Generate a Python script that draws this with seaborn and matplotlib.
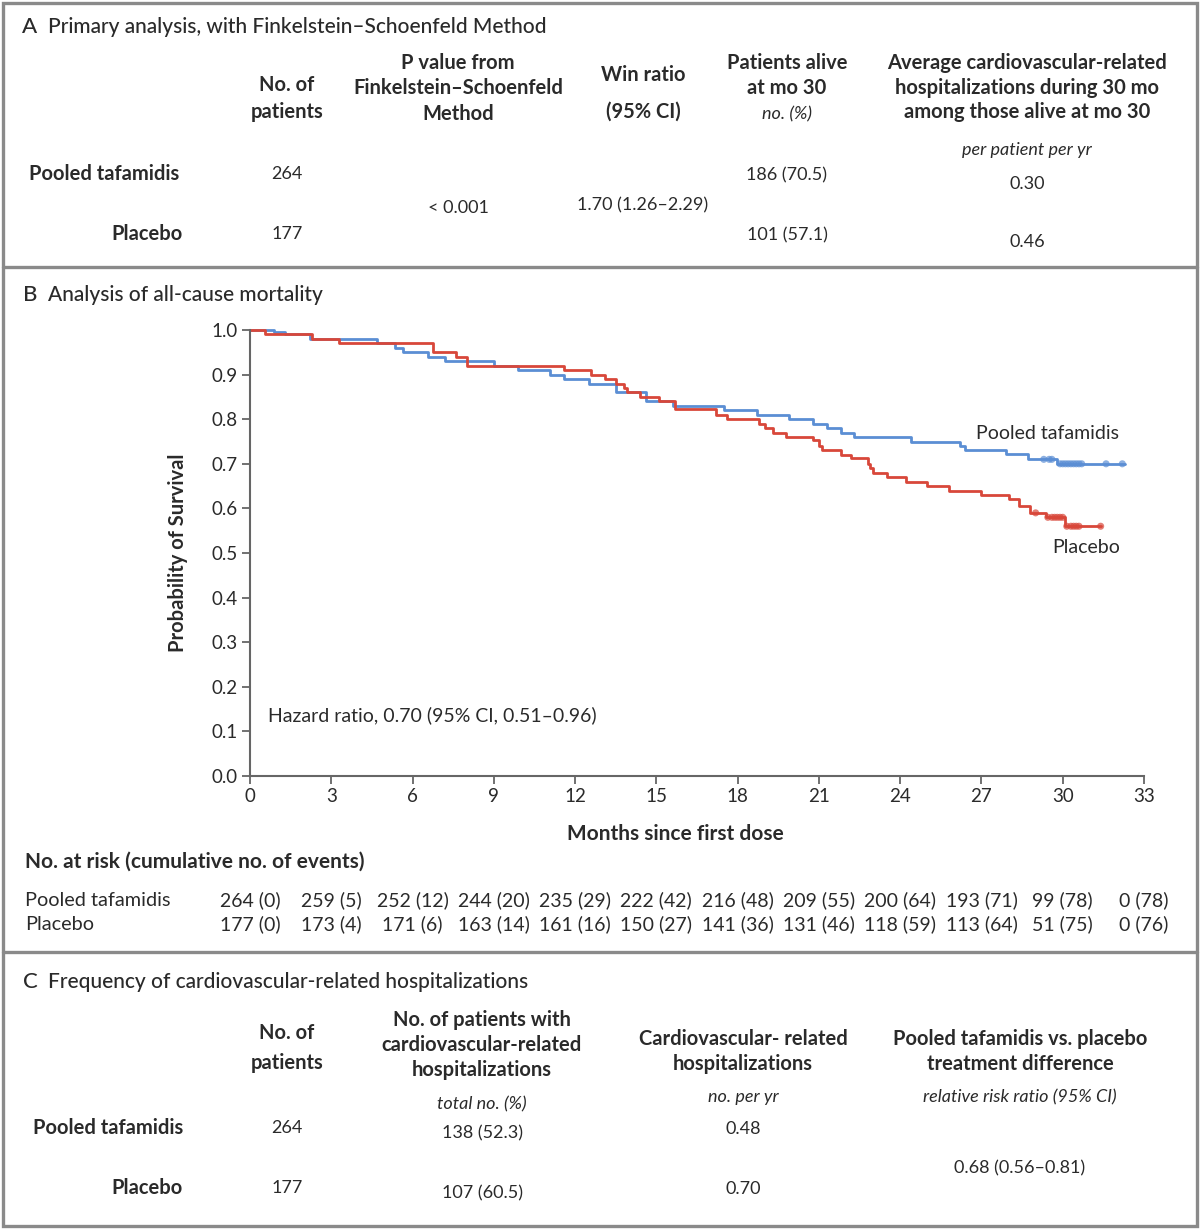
import numpy as np
import pandas as pd
import seaborn as sns
import matplotlib.pyplot as plt
from matplotlib.patches import Rectangle
from matplotlib.lines import Line2D

# ---- data ----
groups = ['Pooled tafamidis', 'Placebo']

# Kaplan-Meier steps (month of step, survival after step)
taf_t = [0, 0.9, 1.3, 2.2, 4.7, 5.35, 5.65, 6.57, 7.2, 9.0, 9.9, 11.07, 11.6, 12.5, 13.5,
         14.6, 15.6, 17.5, 18.7, 19.9, 20.8, 21.3, 21.8, 22.3, 24.4, 26.2, 26.4, 27.9,
         28.7, 29.8, 32.3]
taf_s = [1.0, 0.996, 0.99, 0.98, 0.97, 0.96, 0.95, 0.94, 0.93, 0.92, 0.91, 0.90, 0.89, 0.88,
         0.86, 0.84, 0.83, 0.82, 0.81, 0.80, 0.79, 0.78, 0.77, 0.76, 0.75, 0.74, 0.73, 0.722,
         0.71, 0.70, 0.70]
pla_t = [0, 0.55, 2.3, 3.3, 6.75, 7.6, 8.0, 11.6, 12.6, 13.1, 13.5, 13.8, 13.9, 14.4, 15.1,
         15.7, 17.2, 17.6, 18.8, 19.0, 19.3, 19.8, 20.8, 21.0, 21.1, 21.8, 22.2, 22.8, 22.9,
         23.0, 23.5, 24.2, 25.0, 25.8, 27.0, 28.0, 28.4, 28.8, 29.4, 30.1, 31.4]
pla_s = [1.0, 0.99, 0.98, 0.97, 0.95, 0.94, 0.92, 0.91, 0.90, 0.89, 0.88, 0.87, 0.86, 0.85,
         0.84, 0.822, 0.81, 0.80, 0.79, 0.78, 0.77, 0.76, 0.753, 0.74, 0.73, 0.72, 0.714, 0.70,
         0.69, 0.68, 0.67, 0.66, 0.65, 0.64, 0.63, 0.62, 0.605, 0.59, 0.58, 0.56, 0.56]

# censored observations (months)
taf_cens = [29.3, 29.5, 29.6, 29.9, 30.0, 30.1, 30.2, 30.3, 30.4, 30.5, 30.6, 30.7, 31.6, 32.2]
pla_cens = [29.0, 29.45, 29.6, 29.7, 29.8, 29.9, 30.0, 30.15, 30.3, 30.4, 30.5, 30.6, 31.4]

risk_months = [0, 3, 6, 9, 12, 15, 18, 21, 24, 27, 30, 33]
taf_risk = ['264 (0)', '259 (5)', '252 (12)', '244 (20)', '235 (29)', '222 (42)', '216 (48)',
            '209 (55)', '200 (64)', '193 (71)', '99 (78)', '0 (78)']
pla_risk = ['177 (0)', '173 (4)', '171 (6)', '163 (14)', '161 (16)', '150 (27)', '141 (36)',
            '131 (46)', '118 (59)', '113 (64)', '51 (75)', '0 (76)']

# panel A table
a_patients = ['264', '177']
a_pvalue = '< 0.001'
a_winratio = '1.70 (1.26\u20132.29)'
a_alive = ['186 (70.5)', '101 (57.1)']
a_hosp = ['0.30', '0.46']

# panel C table
c_patients = ['264', '177']
c_with_hosp = ['138 (52.3)', '107 (60.5)']
c_rate = ['0.48', '0.70']
c_rrr = '0.68 (0.56\u20130.81)'

# ---- style ----
sns.set_theme(style='ticks')
plt.rcParams['font.family'] = ['Lato', 'DejaVu Sans']
TXT = '#2a2a2a'
FRAME = '#8a8a8a'
colors = {'Pooled tafamidis': '#5b8ed4', 'Placebo': '#d8473a'}

W, H = 1200, 1229
fig = plt.figure(figsize=(12, 12.29), dpi=100)


def P(x, y):
    return (x / W, 1 - y / H)


def t(x, y, s, size=13, weight='normal', ha='center', style='normal', **kw):
    fig.text(*P(x, y), s, fontsize=size, fontweight=weight, ha=ha, va='center',
             style=style, color=TXT, **kw)


# frame
fig.add_artist(Rectangle(P(3, 1226), (W - 6) / W, (H - 6) / H, transform=fig.transFigure,
                         fill=False, edgecolor=FRAME, lw=2.4))
for yy in (267, 952):
    fig.add_artist(Line2D([3 / W, (W - 3) / W], [1 - yy / H] * 2, transform=fig.transFigure,
                          color=FRAME, lw=2.4))

TITLE = dict(size=15, weight='medium')
hb = dict(size=14.5, weight='bold')
IT = dict(size=13, style='italic')

# ---- panel A ----
t(30, 27, 'A', size=16, weight='medium')
t(48, 27, 'Primary analysis, with Finkelstein\u2013Schoenfeld Method', ha='left', **TITLE)
t(287, 85, 'No. of', **hb)
t(287, 112, 'patients', **hb)
t(458, 63, 'P value from', **hb)
t(458, 88, 'Finkelstein\u2013Schoenfeld', **hb)
t(458, 114, 'Method', **hb)
t(643, 75, 'Win ratio', **hb)
t(643, 112, '(95% CI)', **hb)
t(787, 63, 'Patients alive', **hb)
t(787, 88, 'at mo 30', **hb)
t(787, 114, 'no. (%)', **IT)
t(1027, 63, 'Average cardiovascular-related', **hb)
t(1027, 88, 'hospitalizations during 30 mo', **hb)
t(1027, 112, 'among those alive at mo 30', **hb)
t(1027, 150, 'per patient per yr', **IT)
t(179, 174, groups[0], ha='right', **hb)
t(183, 234, groups[1], ha='right', **hb)
for i, yy in enumerate((174, 234)):
    t(287, yy, a_patients[i])
    t(787, yy + 1, a_alive[i])
t(458, 208, a_pvalue)
t(643, 205, a_winratio)
t(1027, 184, a_hosp[0])
t(1027, 242, a_hosp[1])

# ---- panel B ----
t(30, 295, 'B', size=16, weight='medium')
t(48, 295, 'Analysis of all-cause mortality', ha='left', **TITLE)

ax = fig.add_axes([250 / W, 1 - 776 / H, (1144 - 250) / W, (776 - 330) / H])
ax.set_facecolor('none')
km = pd.concat([
    pd.DataFrame({'month': taf_t, 'surv': taf_s, 'group': groups[0]}),
    pd.DataFrame({'month': pla_t, 'surv': pla_s, 'group': groups[1]}),
])
sns.lineplot(data=km, x='month', y='surv', hue='group', palette=colors, estimator=None,
             sort=False, drawstyle='steps-post', lw=2.0, legend=False, ax=ax, clip_on=False)


def surv_at(tt, ss, x):
    idx = np.searchsorted(tt, x, side='right') - 1
    return np.asarray(ss)[idx]


cens = pd.concat([
    pd.DataFrame({'month': taf_cens, 'surv': surv_at(taf_t, taf_s, taf_cens), 'group': groups[0]}),
    pd.DataFrame({'month': pla_cens, 'surv': surv_at(pla_t, pla_s, pla_cens), 'group': groups[1]}),
])
sns.scatterplot(data=cens, x='month', y='surv', hue='group', palette=colors, s=26,
                marker='o', alpha=0.7, edgecolor='none', legend=False, ax=ax, clip_on=False)

ax.set_xlim(0, 33)
ax.set_ylim(0, 1.0)
ax.set_xticks(risk_months)
ax.set_yticks(np.arange(0, 1.01, 0.1))
ax.set_yticklabels([f'{v:.1f}' for v in np.arange(0, 1.01, 0.1)])
sns.despine(ax=ax)
for sp in ('left', 'bottom'):
    ax.spines[sp].set_color('#666666')
    ax.spines[sp].set_linewidth(1.5)
ax.tick_params(direction='out', length=6, width=1.3, color='#666666', labelsize=13.5,
               labelcolor=TXT, pad=3)
ax.set_xlabel('')
ax.set_ylabel('')
ax.text(0.66, 0.137, 'Hazard ratio, 0.70 (95% CI, 0.51\u20130.96)', fontsize=14, color=TXT,
        va='center', ha='left')
ax.text(26.8, 0.767, groups[0], fontsize=14, color=TXT, va='center', ha='left')
ax.text(29.6, 0.513, groups[1], fontsize=14, color=TXT, va='center', ha='left')

t(178, 553, 'Probability of Survival', size=14.5, weight='bold', rotation=90)
t(675, 834, 'Months since first dose', size=15, weight='bold')
t(25, 862, 'No. at risk (cumulative no. of events)', size=15, weight='bold', ha='left')
t(25, 900, groups[0], size=14.3, ha='left')
t(25, 924, groups[1], size=14.3, ha='left')
for m, a, b in zip(risk_months, taf_risk, pla_risk):
    xx = 250 + m * (1144 - 250) / 33
    t(xx, 900, a, size=14)
    t(xx, 924, b, size=14)

# ---- panel C ----
t(30, 982, 'C', size=16, weight='medium')
t(48, 982, 'Frequency of cardiovascular-related hospitalizations', ha='left', **TITLE)
t(287, 1033, 'No. of', **hb)
t(287, 1063, 'patients', **hb)
t(482, 1020, 'No. of patients with', **hb)
t(482, 1045, 'cardiovascular-related', **hb)
t(482, 1070, 'hospitalizations', **hb)
t(482, 1104, 'total no. (%)', **IT)
t(743, 1039, 'Cardiovascular- related', **hb)
t(743, 1064, 'hospitalizations', **hb)
t(743, 1097, 'no. per yr', **IT)
t(1020, 1039, 'Pooled tafamidis vs. placebo', **hb)
t(1020, 1064, 'treatment difference', **hb)
t(1020, 1097, 'relative risk ratio (95% CI)', **IT)
t(183, 1128, groups[0], ha='right', **hb)
t(183, 1188, groups[1], ha='right', **hb)
for i, yy in enumerate((1128, 1188)):
    t(287, yy, c_patients[i])
    t(482, yy + 5, c_with_hosp[i])
    t(743, yy + 1, c_rate[i])
t(1020, 1168, c_rrr)

fig.savefig('out.png', dpi=100)
